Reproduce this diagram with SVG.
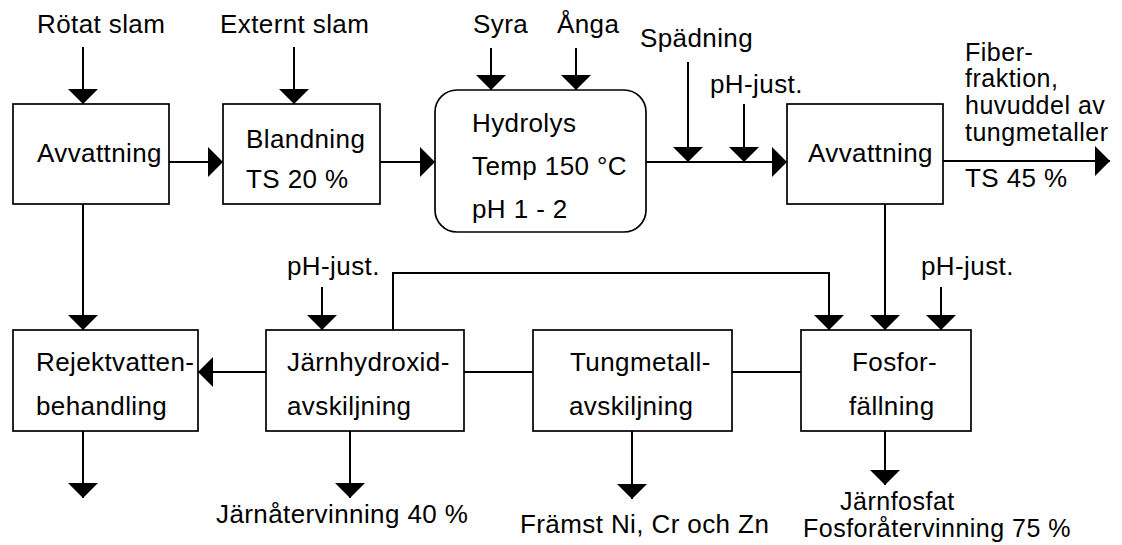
<svg xmlns="http://www.w3.org/2000/svg" width="1122" height="545" viewBox="0 0 1122 545">
<style>
text{font-family:"Liberation Sans",Arial,sans-serif;font-size:26px;fill:#000;letter-spacing:0.4px}
.sm{font-size:25px;letter-spacing:0.5px}
.box{fill:#fff;stroke:#000;stroke-width:1.7}
.c{fill:none;stroke:#000;stroke-width:2}
.a{marker-end:url(#ah)}
</style>
<defs>
<marker id="ah" markerUnits="userSpaceOnUse" markerWidth="16" markerHeight="30" refX="15" refY="15" orient="auto" viewBox="0 0 16 30">
<path d="M0,0 L15,15 L0,30 z" fill="#000"/>
</marker>
</defs>
<rect width="1122" height="545" fill="#fff"/>
<g id="connectors">
<line class="c a" x1="83" y1="47" x2="83" y2="104"/>
<line class="c a" x1="294" y1="47" x2="294" y2="104"/>
<line class="c a" x1="169" y1="162" x2="223" y2="162"/>
<line class="c a" x1="380" y1="162" x2="435" y2="162"/>
<line class="c a" x1="491" y1="48" x2="491" y2="90"/>
<line class="c a" x1="576" y1="48" x2="576" y2="90"/>
<line class="c a" x1="646" y1="162" x2="787" y2="162"/>
<line class="c a" x1="688" y1="62" x2="688" y2="162"/>
<line class="c a" x1="744" y1="104" x2="744" y2="162"/>
<line class="c a" x1="943" y1="161" x2="1110" y2="161"/>
<line class="c a" x1="83" y1="204" x2="83" y2="330"/>
<line class="c a" x1="83" y1="431" x2="83" y2="498"/>
<line class="c a" x1="266" y1="372" x2="198" y2="372"/>
<line class="c a" x1="322" y1="287" x2="322" y2="330"/>
<polyline class="c a" points="393,330 393,273 829,273 829,330"/>
<line class="c a" x1="350" y1="431" x2="350" y2="498"/>
<line class="c" x1="464" y1="372" x2="533" y2="372"/>
<line class="c a" x1="632" y1="431" x2="632" y2="499"/>
<line class="c" x1="732" y1="372" x2="801" y2="372"/>
<line class="c a" x1="885" y1="204" x2="885" y2="330"/>
<line class="c a" x1="941" y1="287" x2="941" y2="330"/>
<line class="c a" x1="885" y1="431" x2="885" y2="485"/>
</g>
<g id="labels">
<text x="37" y="33">Rötat slam</text>
<text x="220" y="33">Externt slam</text>
<text x="473" y="33">Syra</text>
<text x="557" y="33">Ånga</text>
<text x="640" y="47">Spädning</text>
<text x="710" y="93">pH-just.</text>
<text class="sm" x="965" y="61">Fiber-</text>
<text class="sm" x="965" y="87">fraktion,</text>
<text class="sm" x="965" y="114">huvuddel av</text>
<text class="sm" x="965" y="141">tungmetaller</text>
<text x="965" y="187">TS 45 %</text>
<text x="287" y="275">pH-just.</text>
<text x="921" y="275">pH-just.</text>
<text x="216" y="523">Järnåtervinning 40 %</text>
<text x="520" y="533">Främst Ni, Cr och Zn</text>
<text class="sm" x="840" y="510">Järnfosfat</text>
<text class="sm" x="803" y="537">Fosforåtervinning 75 %</text>
</g>
<g id="avvattning1">
<rect class="box" x="13" y="104" width="156" height="100"/>
<text x="37" y="162">Avvattning</text>
</g>
<g id="blandning">
<rect class="box" x="223" y="104" width="157" height="100"/>
<text x="246" y="148">Blandning</text>
<text x="246" y="188">TS 20 %</text>
</g>
<g id="hydrolys">
<rect class="box" x="435" y="90" width="211" height="142" rx="22" ry="22"/>
<text x="472" y="132">Hydrolys</text>
<text x="472" y="175">Temp 150 °C</text>
<text x="472" y="218">pH 1 - 2</text>
</g>
<g id="avvattning2">
<rect class="box" x="787" y="104" width="156" height="100"/>
<text x="808" y="162">Avvattning</text>
</g>
<g id="rejektvatten">
<rect class="box" x="13" y="330" width="185" height="101"/>
<text x="36" y="371">Rejektvatten-</text>
<text x="36" y="415">behandling</text>
</g>
<g id="jarnhydroxid">
<rect class="box" x="266" y="330" width="198" height="101"/>
<text x="287" y="371">Järnhydroxid-</text>
<text x="287" y="415">avskiljning</text>
</g>
<g id="tungmetall">
<rect class="box" x="533" y="330" width="199" height="101"/>
<text x="570" y="371">Tungmetall-</text>
<text x="569" y="415">avskiljning</text>
</g>
<g id="fosfor">
<rect class="box" x="801" y="330" width="170" height="101"/>
<text x="852" y="371">Fosfor-</text>
<text x="849" y="415">fällning</text>
</g>
</svg>
